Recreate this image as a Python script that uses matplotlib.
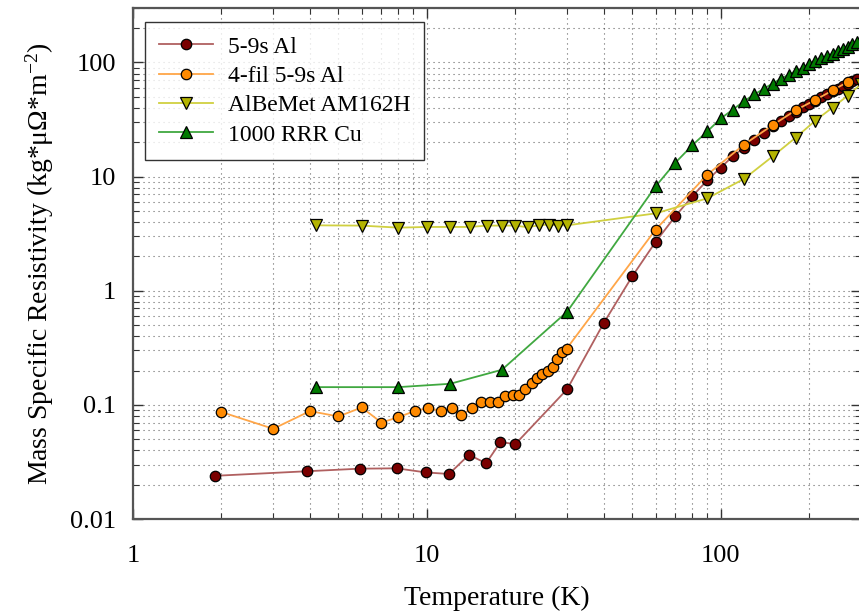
import numpy as np
import matplotlib
matplotlib.use('Agg')
import matplotlib.pyplot as plt
from matplotlib.ticker import LogLocator, NullFormatter, FixedLocator, FixedFormatter

plt.rcParams['font.family'] = ['Liberation Serif', 'DejaVu Serif']
plt.rcParams['mathtext.fontset'] = 'custom'
plt.rcParams['mathtext.rm'] = 'Liberation Serif'
plt.rcParams['mathtext.it'] = 'Liberation Serif:italic'

# ---- data ----
al_T = [1.9, 3.9, 5.9, 7.9, 9.9, 11.9, 13.9, 15.9, 17.8, 20, 30, 40, 50, 60, 70, 80,
        90, 100, 110, 120, 130, 140, 150, 160, 170, 180, 190, 200, 210, 220, 230,
        240, 250, 260, 270, 280, 290]
al_R = [0.0239, 0.0262, 0.0276, 0.0278, 0.0256, 0.0248, 0.0365, 0.0308, 0.0472, 0.0453,
        0.137, 0.523, 1.34, 2.68, 4.48, 6.72, 9.3, 12.0, 15.1, 17.9, 21.1, 24.2, 27.5,
        30.8, 33.8, 37.0, 40.5, 43.4, 46.2, 50.0, 53.1, 56.0, 58.8, 62.0, 65.2, 68.5, 72.0]

fil_T = [2, 3, 4, 5, 6, 7, 8, 9.1, 10.1, 11.2, 12.2, 13.1, 14.2, 15.3, 16.4, 17.4, 18.5,
         19.6, 20.6, 21.6, 22.7, 23.7, 24.7, 25.8, 26.9, 27.8, 28.8, 29.9,
         60, 90, 120, 150, 180, 210, 240, 270]
fil_R = [0.0865, 0.0617, 0.0882, 0.0791, 0.0949, 0.0700, 0.0780, 0.0884, 0.0938, 0.0885,
         0.0934, 0.0815, 0.0930, 0.1065, 0.1065, 0.1065, 0.120, 0.122, 0.122, 0.138, 0.157,
         0.173, 0.188, 0.200, 0.213, 0.254, 0.288, 0.311,
         3.43, 10.4, 19.1, 28.2, 38.2, 47.1, 56.8, 67.5]

abm_T = [4.2, 6, 8, 10, 12, 14, 16, 18, 20, 22, 24, 26, 28, 30,
         60, 90, 120, 150, 180, 210, 240, 270, 300]
abm_R = [3.74, 3.72, 3.57, 3.62, 3.62, 3.62, 3.72, 3.72, 3.72, 3.60, 3.74, 3.80, 3.72, 3.74,
         4.76, 6.45, 9.55, 15.0, 22.0, 31.0, 40.3, 51.0, 64.6]

cu_T = [4.2, 8, 12, 18, 30, 60, 70, 80, 90, 100, 110, 120, 130, 140, 150, 160, 170, 180,
        190, 200, 210, 220, 230, 240, 250, 260, 270, 280, 290]
cu_R = [0.143, 0.143, 0.153, 0.203, 0.655, 8.2, 13.2, 18.8, 24.9, 32.3, 38.7, 45.8, 52.4,
        58.8, 65.4, 71.9, 78.0, 84.0, 88.6, 97.4, 102.8, 108.5, 113.5, 119.0, 125.7, 131.8,
        137.0, 143.8, 151.7]

labels = ['5-9s Al', '4-fil 5-9s Al', 'AlBeMet AM162H', '1000 RRR Cu']
line_colors = ['#b06060', '#ffa648', '#d0d040', '#40a840']
face_colors = ['#7a0000', '#ff8a00', '#b4b400', '#007a00']
markers = ['o', 'o', 'v', '^']
sizes = [7.5, 7.5, 8.5, 8.5]

xticks = [1, 10, 100]
xticklabels = ['1', '10', '100']
yticks = [0.01, 0.1, 1, 10, 100]
yticklabels = ['0.01', '0.1', '1', '10', '100']

# ---- figure ----
W, H = 859, 614
fig = plt.figure(figsize=(W / 100, H / 100), dpi=100)
ax = fig.add_axes([133 / W, 1 - 519 / H, (861 - 133) / W, (519 - 8) / H])

series = [(al_T, al_R), (fil_T, fil_R), (abm_T, abm_R), (cu_T, cu_R)]
for (T, R), lab, lc, fc, mk, ms in zip(series, labels, line_colors, face_colors, markers, sizes):
    ax.plot(T, R, color=lc, lw=1.3, marker=mk, ms=ms, mfc=fc, mec='black', mew=0.9,
            label=lab, zorder=3)

ax.set_xscale('log')
ax.set_yscale('log')
ax.set_xlim(1, 300)
ax.set_ylim(0.01, 300)

ax.xaxis.set_major_locator(FixedLocator(xticks))
ax.xaxis.set_major_formatter(FixedFormatter(xticklabels))
ax.yaxis.set_major_locator(FixedLocator(yticks))
ax.yaxis.set_major_formatter(FixedFormatter(yticklabels))
ax.xaxis.set_minor_locator(LogLocator(base=10, subs=np.arange(2, 10), numticks=20))
ax.yaxis.set_minor_locator(LogLocator(base=10, subs=np.arange(2, 10), numticks=20))
ax.xaxis.set_minor_formatter(NullFormatter())
ax.yaxis.set_minor_formatter(NullFormatter())

ax.grid(True, which='both', color='black', linestyle=(0, (1, 3.5)), linewidth=0.8, alpha=0.6)
ax.set_axisbelow(True)

ax.tick_params(which='both', direction='in', top=True, right=True, colors='#333333',
               labelcolor='black')
ax.tick_params(which='major', length=7, width=1.0)
ax.tick_params(which='minor', length=4, width=0.8)
ax.tick_params(axis='x', which='major', labelsize=19, pad=19)
ax.tick_params(axis='y', which='major', labelsize=19, pad=12)

for sp in ax.spines.values():
    sp.set_color('#555555')
    sp.set_linewidth(1.6)

ax.set_xlabel('Temperature (K)', fontsize=20, labelpad=13)
ax.set_ylabel('Mass Specific Resistivity (kg*μΩ*m$^{-2}$)', fontsize=20, labelpad=10)

leg = ax.legend(loc='upper left', bbox_to_anchor=(12 / 728, 1 - 14 / 511), borderaxespad=0,
                fontsize=17, frameon=True, fancybox=False, edgecolor='black',
                handlelength=2.3, handletextpad=0.6, labelspacing=0.33, borderpad=0.6,
                numpoints=1)
leg.get_frame().set_linewidth(1.0)

fig.savefig('out.png', dpi=100)
